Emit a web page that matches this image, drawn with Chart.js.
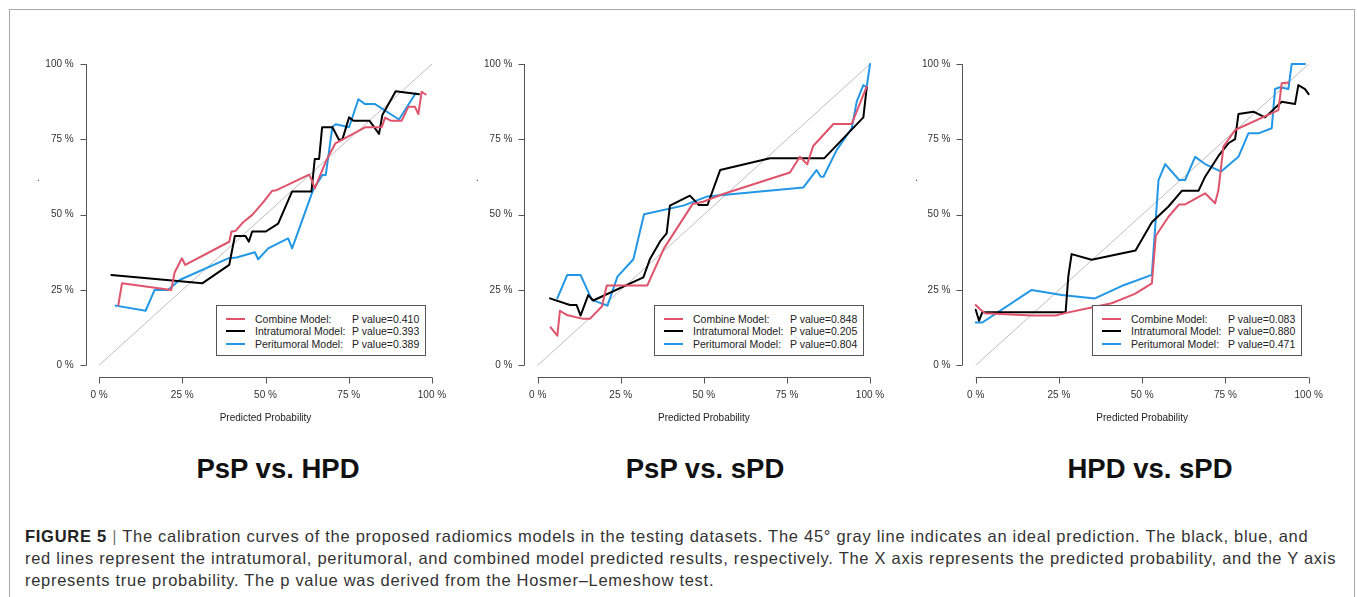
<!DOCTYPE html>
<html>
<head>
<meta charset="utf-8">
<script src="https://cdn.jsdelivr.net/npm/chart.js@4.4.1/dist/chart.umd.min.js"></script>
<style>
  body { margin: 0; background: #fff; font-family: "Liberation Sans", Arial, sans-serif; }
  #page { position: relative; width: 1357px; height: 597px; overflow: hidden; }
  #frame { position: absolute; left: 9px; top: 9px; width: 1344px; height: 640px; border: 1px solid #a8a8a8; }
  .panel { position: absolute; top: 34px; width: 440px; height: 400px; }
  .ydot { position: absolute; font-size: 10px; color: #333; }
  .legend { position: absolute; top: 305px; width: 208px; height: 49px; border: 1px solid #555; background: #fff;
            font-size: 10.5px; color: #222; }
  .legend .row { position: absolute; left: 0; height: 12px; line-height: 12px; white-space: nowrap; }
  .legend .swatch { position: absolute; left: 9px; width: 19px; height: 2px; top: 5px; }
  .legend .name { position: absolute; left: 38px; }
  .legend .pval { position: absolute; left: 135px; }
  .title { position: absolute; top: 456px; font-size: 27.5px; line-height: 26px; font-weight: bold; color: #111;
           white-space: nowrap; transform: translateX(-50%); }
  .caption { position: absolute; left: 25px; top: 525px; font-size: 16.5px; letter-spacing: 0.72px; line-height: 22px;
             color: #333; white-space: nowrap; }
  .caption b { color: #222; }
  .caption .bar { color: #777; }
</style>
</head>
<body>
<div id="page">
  <div id="frame"></div>
</div>
<script>
// axis ticks (percent)
const tickValues = [0, 25, 50, 75, 100];
const xAxisTitle = 'Predicted Probability';
const yAxisTitle = '.';

const panelTitles = ['PsP vs. HPD', 'PsP vs. sPD', 'HPD vs. sPD'];
const modelNames = ['Combine Model:', 'Intratumoral Model:', 'Peritumoral Model:'];
const modelColors = ['#df536b', '#000000', '#2297e6'];

const pValuesHpd = ['0.410', '0.393', '0.389'];
const pValuesSpd = ['0.848', '0.205', '0.804'];
const pValuesHs = ['0.083', '0.880', '0.471'];

// ideal prediction line
const diagX = [0, 100];
const diagY = [0, 100];

// PsP vs. HPD
const hpdCombineX = [5.8, 6.9, 21.7, 22.7, 24.9, 25.9, 39.1, 39.8, 41.0, 43.3, 46.1, 49.1, 52.0, 53.0, 63.1, 63.8, 64.8, 68.3, 71.0, 79.9, 84.9, 85.9, 87.6, 90.9, 92.9, 94.9, 95.9, 96.9, 98.1];
const hpdCombineY = [20.0, 27.2, 25.0, 30.8, 35.5, 33.3, 41.0, 44.4, 44.6, 47.5, 50.0, 53.8, 57.9, 58.0, 63.3, 61.7, 58.7, 68.1, 73.7, 79.0, 79.0, 82.2, 81.2, 81.2, 85.8, 85.8, 83.4, 90.8, 89.9];
const hpdIntraX = [3.7, 31.0, 39.1, 40.8, 44.0, 45.0, 46.0, 50.1, 53.8, 58.0, 63.8, 64.8, 66.1, 67.0, 70.1, 72.1, 73.1, 75.1, 76.4, 81.2, 84.1, 85.1, 89.1, 96.1];
const hpdIntraY = [30.0, 27.2, 33.3, 42.9, 42.9, 41.0, 44.4, 44.4, 47.0, 57.7, 57.7, 68.5, 68.5, 79.0, 79.0, 74.8, 75.0, 82.3, 81.2, 81.2, 76.8, 83.1, 91.0, 90.0];
const hpdPeriX = [5.0, 14.0, 16.7, 20.7, 24.2, 38.8, 41.3, 46.8, 47.8, 50.8, 56.8, 58.0, 64.3, 67.1, 68.1, 70.1, 71.1, 75.1, 77.9, 79.9, 82.9, 90.1, 95.1];
const hpdPeriY = [19.8, 18.1, 25.0, 25.0, 28.3, 35.5, 35.8, 37.5, 35.2, 38.8, 42.1, 38.8, 58.2, 63.2, 63.2, 79.2, 80.0, 79.0, 88.3, 86.7, 86.7, 81.6, 90.3];

// PsP vs. sPD
const spdCombineX = [3.9, 5.9, 6.7, 8.7, 13.7, 15.7, 19.3, 20.8, 33.0, 38.0, 46.6, 49.8, 54.9, 75.9, 78.9, 81.1, 82.9, 89.0, 94.5, 99.0];
const spdCombineY = [12.6, 9.8, 18.1, 16.7, 15.4, 15.4, 19.5, 26.5, 26.5, 38.8, 53.5, 54.3, 56.5, 64.0, 69.2, 66.7, 72.8, 80.1, 80.1, 92.5];
const spdIntraX = [3.7, 9.7, 11.7, 12.9, 15.2, 16.7, 31.8, 33.8, 37.0, 38.8, 39.8, 45.8, 48.5, 51.1, 54.9, 69.9, 86.2, 98.0, 99.0];
const spdIntraY = [22.2, 20.0, 20.0, 16.5, 23.3, 21.5, 29.2, 35.3, 41.4, 43.8, 53.0, 56.3, 53.2, 53.2, 64.8, 68.7, 68.7, 82.3, 92.1];
const spdPeriX = [5.9, 8.9, 12.9, 16.3, 21.0, 24.0, 28.8, 32.0, 43.8, 50.9, 79.9, 83.9, 85.2, 86.0, 90.0, 94.5, 96.0, 98.0, 99.0, 100];
const spdPeriY = [22.2, 30.0, 30.0, 21.7, 19.8, 29.4, 35.2, 50.1, 53.0, 56.0, 59.0, 64.8, 62.6, 62.6, 71.5, 78.7, 87.5, 93.0, 92.3, 100];

// HPD vs. sPD
const hsCombineX = [0, 1.3, 2.8, 16.8, 24.0, 26.8, 34.8, 40.8, 47.8, 52.9, 54.1, 57.9, 61.1, 62.9, 68.9, 71.9, 72.9, 74.4, 77.9, 90.9, 91.9, 93.9];
const hsCombineY = [20.0, 18.6, 17.3, 16.5, 16.5, 17.3, 19.2, 20.6, 23.7, 27.2, 43.0, 49.3, 53.4, 53.4, 57.1, 53.8, 58.2, 72.6, 78.1, 84.7, 93.6, 93.9];
const hsIntraX = [0, 1.0, 2.0, 27.0, 27.8, 28.8, 34.8, 48.0, 52.9, 57.9, 61.9, 66.9, 68.9, 72.9, 75.9, 77.9, 78.9, 83.4, 86.9, 91.9, 95.9, 96.9, 98.9, 100];
const hsIntraY = [18.4, 14.8, 17.6, 17.6, 29.4, 36.9, 35.0, 38.1, 47.5, 52.7, 57.9, 57.9, 62.6, 69.5, 73.7, 75.1, 83.4, 84.2, 82.3, 87.5, 86.7, 93.0, 91.7, 90.0];
const hsPeriX = [0, 2.0, 16.8, 25.8, 35.8, 43.8, 52.9, 54.9, 56.9, 61.1, 62.9, 65.9, 68.9, 73.7, 78.9, 81.9, 84.9, 88.9, 89.9, 91.4, 93.9, 94.9, 98.9];
const hsPeriY = [14.2, 14.2, 25.0, 23.3, 22.2, 26.3, 30.0, 61.5, 66.8, 61.5, 61.5, 69.2, 66.8, 64.3, 69.2, 77.0, 77.0, 78.7, 91.7, 92.3, 91.7, 100, 100];

const captionLines = [
  'The calibration curves of the proposed radiomics models in the testing datasets. The 45\u00b0 gray line indicates an ideal prediction. The black, blue, and',
  'red lines represent the intratumoral, peritumoral, and combined model predicted results, respectively. The X axis represents the predicted probability, and the Y axis',
  'represents true probability. The p value was derived from the Hosmer\u2013Lemeshow test.'
];

Chart.defaults.font.family = '"Liberation Sans", Arial, sans-serif';

const toPoints = (xs, ys) => xs.map((x, i) => ({ x: x, y: ys[i] }));

// layout of the three panels (page pixels)
const panels = [
  { title: panelTitles[0], pvals: pValuesHpd, series: [[hpdCombineX, hpdCombineY], [hpdIntraX, hpdIntraY], [hpdPeriX, hpdPeriY]],
    left: 20, yWidth: 57.7, padRight: 14.7, dotX: 37, legendX: 216, titleX: 278 },
  { title: panelTitles[1], pvals: pValuesSpd, series: [[spdCombineX, spdCombineY], [spdIntraX, spdIntraY], [spdPeriX, spdPeriY]],
    left: 460, yWidth: 56.4, padRight: 16.7, dotX: 476, legendX: 654, titleX: 705 },
  { title: panelTitles[2], pvals: pValuesHs, series: [[hsCombineX, hsCombineY], [hsIntraX, hsIntraY], [hsPeriX, hsPeriY]],
    left: 900, yWidth: 54.4, padRight: 18, dotX: 915, legendX: 1092, titleX: 1150 }
];

// R style axes: line only from first to last tick, ticks pointing outward
const rAxes = {
  id: 'rAxes',
  beforeDatasetsDraw(chart) {
    const { ctx, chartArea, scales: { x, y } } = chart;
    ctx.save();
    ctx.strokeStyle = '#555';
    ctx.lineWidth = 1;
    ctx.beginPath();
    const yb = Math.round(chartArea.bottom) + 0.5;
    ctx.moveTo(x.getPixelForValue(tickValues[0]), yb);
    ctx.lineTo(x.getPixelForValue(tickValues[tickValues.length - 1]), yb);
    tickValues.forEach(v => {
      const px = Math.round(x.getPixelForValue(v)) + 0.5;
      ctx.moveTo(px, yb);
      ctx.lineTo(px, yb + 6);
    });
    const xl = Math.round(chartArea.left) + 0.5;
    ctx.moveTo(xl, y.getPixelForValue(tickValues[0]));
    ctx.lineTo(xl, y.getPixelForValue(tickValues[tickValues.length - 1]));
    tickValues.forEach(v => {
      const py = Math.round(y.getPixelForValue(v)) + 0.5;
      ctx.moveTo(xl, py);
      ctx.lineTo(xl - 6, py);
    });
    ctx.stroke();
    ctx.restore();
  }
};

const page = document.getElementById('page');

panels.forEach(p => {
  const box = document.createElement('div');
  box.className = 'panel';
  box.style.left = p.left + 'px';
  const canvas = document.createElement('canvas');
  canvas.width = 440;
  canvas.height = 400;
  box.appendChild(canvas);
  page.appendChild(box);

  const datasets = p.series.map((s, i) => ({
    label: modelNames[i],
    data: toPoints(s[0], s[1]),
    borderColor: modelColors[i],
    borderWidth: 2,
    borderJoinStyle: 'round',
    borderCapStyle: 'round'
  }));
  datasets.push({
    label: 'ideal',
    data: toPoints(diagX, diagY),
    borderColor: '#bebebe',
    borderWidth: 1
  });

  new Chart(canvas, {
    type: 'scatter',
    data: { datasets: datasets },
    options: {
      responsive: false,
      animation: false,
      devicePixelRatio: 1,
      showLine: true,
      elements: { point: { radius: 0 }, line: { tension: 0 } },
      layout: { padding: { left: 8, top: 18, right: p.padRight, bottom: 0 } },
      plugins: { legend: { display: false }, tooltip: { enabled: false } },
      scales: {
        x: {
          type: 'linear', min: -4, max: 104,
          afterBuildTicks: s => { s.ticks = tickValues.map(v => ({ value: v })); },
          afterFit: s => { s.height = 56.7; },
          grid: { display: false, drawTicks: false },
          border: { display: false },
          ticks: { callback: v => v + ' %', color: '#333', font: { size: 10 }, padding: 12, maxRotation: 0, autoSkip: false },
          title: { display: true, text: xAxisTitle, color: '#222', font: { size: 10 }, padding: { top: 0, bottom: 10 } }
        },
        y: {
          type: 'linear', min: -4, max: 104,
          afterBuildTicks: s => { s.ticks = tickValues.map(v => ({ value: v })); },
          afterFit: s => { s.width = p.yWidth; },
          grid: { display: false, drawTicks: false },
          border: { display: false },
          ticks: { callback: v => v + ' %', color: '#333', font: { size: 10 }, padding: 12, autoSkip: false }
        }
      }
    },
    plugins: [rAxes]
  });

  const dot = document.createElement('div');
  dot.className = 'ydot';
  dot.style.left = p.dotX + 'px';
  dot.style.top = '172px';
  dot.textContent = yAxisTitle;
  page.appendChild(dot);

  const lg = document.createElement('div');
  lg.className = 'legend';
  lg.style.left = p.legendX + 'px';
  modelNames.forEach((name, i) => {
    const row = document.createElement('div');
    row.className = 'row';
    row.style.top = (6.5 + i * 12.7) + 'px';
    row.style.width = '100%';
    row.innerHTML = '<div class="swatch" style="background:' + modelColors[i] + '"></div>' +
      '<span class="name"></span><span class="pval"></span>';
    row.querySelector('.name').textContent = name;
    row.querySelector('.pval').textContent = 'P value=' + p.pvals[i];
    lg.appendChild(row);
  });
  page.appendChild(lg);

  const t = document.createElement('div');
  t.className = 'title';
  t.style.left = p.titleX + 'px';
  t.textContent = p.title;
  page.appendChild(t);
});

const cap = document.createElement('div');
cap.className = 'caption';
cap.innerHTML = '<b>FIGURE 5</b> <span class="bar">|</span> ';
cap.appendChild(document.createTextNode(captionLines[0]));
captionLines.slice(1).forEach(line => {
  cap.appendChild(document.createElement('br'));
  cap.appendChild(document.createTextNode(line));
});
page.appendChild(cap);
</script>
</body>
</html>
